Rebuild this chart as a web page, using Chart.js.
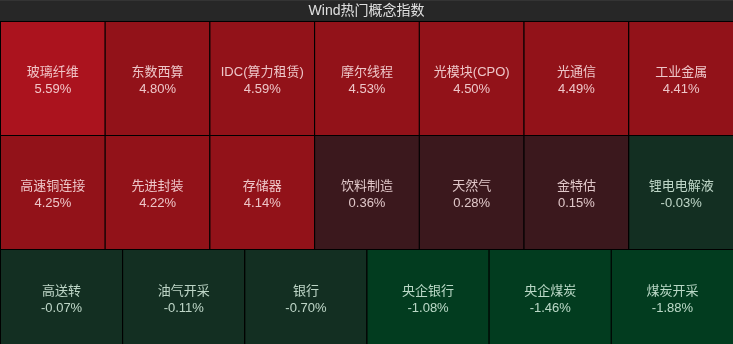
<!DOCTYPE html>
<html><head><meta charset="utf-8">
<script src="https://cdn.jsdelivr.net/npm/chart.js@4/dist/chart.umd.min.js"></script>
<style>
html,body{margin:0;padding:0;background:#000;}
#wrap{width:733px;height:344px;}
canvas{display:block;}
</style>
</head><body><div id="wrap"><canvas id="c" width="733" height="344"></canvas></div>
<script>
// ---- data ----
const chartTitle = 'Wind热门概念指数';
const row1Names = ['玻璃纤维','东数西算','IDC(算力租赁)','摩尔线程','光模块(CPO)','光通信','工业金属'];
const row1Values = [5.59, 4.80, 4.59, 4.53, 4.50, 4.49, 4.41];
const row2Names = ['高速铜连接','先进封装','存储器','饮料制造','天然气','金特估','锂电电解液'];
const row2Values = [4.25, 4.22, 4.14, 0.36, 0.28, 0.15, -0.03];
const row3Names = ['高送转','油气开采','银行','央企银行','央企煤炭','煤炭开采'];
const row3Values = [-0.07, -0.11, -0.70, -1.08, -1.46, -1.88];

// ---- layout / style ----
const rowWeights = [1.2, 1.2, 1];
const FONT = '"Liberation Sans", "Noto Sans CJK SC", sans-serif';

function cellColor(v) {
  if (v >= 5) return '#ab131e';
  if (v >= 1) return '#921219';
  if (v >= 0) return '#3b181d';
  if (v > -1) return '#132f22';
  return '#023c1f';
}
function textColor(v) {
  return v >= 0 ? 'rgba(255,232,234,0.84)' : 'rgba(232,255,240,0.8)';
}
function fmt(v) { return v.toFixed(2) + '%'; }

const rowDefs = [
  {names: row1Names, values: row1Values, axis: 'x7'},
  {names: row2Names, values: row2Values, axis: 'x7'},
  {names: row3Names, values: row3Values, axis: 'x6'}
];
const total = rowWeights.reduce((a, b) => a + b, 0);
let acc = 0;
const datasets = rowDefs.map((r, i) => {
  const start = acc; acc += rowWeights[i];
  const end = acc;
  return {
    names: r.names,
    values: r.values,
    xAxisID: r.axis,
    yAxisID: 'y',
    data: r.values.map(() => [start, end]),
    backgroundColor: r.values.map(cellColor),
    borderColor: '#000',
    borderWidth: {top: 1, left: 1, right: 0, bottom: 0},
    borderSkipped: false,
    inflateAmount: 0,
    grouped: false,
    categoryPercentage: 1,
    barPercentage: 1
  };
});
const cols7 = row1Names.map((_, i) => 'c' + i);
const cols6 = row3Names.map((_, i) => 'c' + i);

const headerPlugin = {
  id: 'header',
  beforeDraw(chart) {
    const ctx = chart.ctx;
    ctx.save();
    ctx.fillStyle = '#272727';
    ctx.fillRect(0, 0, chart.width, chart.chartArea.top);
    ctx.fillStyle = '#343434';
    ctx.fillRect(0, 0, chart.width, 1);
    ctx.restore();
  }
};
const labelPlugin = {
  id: 'cellLabels',
  afterDatasetsDraw(chart) {
    const ctx = chart.ctx;
    ctx.save();
    ctx.textAlign = 'center';
    ctx.textBaseline = 'middle';
    ctx.font = '13px ' + FONT;
    chart.data.datasets.forEach((ds, di) => {
      const meta = chart.getDatasetMeta(di);
      meta.data.forEach((bar, i) => {
        const p = bar.getProps(['x', 'y', 'base'], true);
        const cy = (p.y + p.base) / 2;
        const cx = p.x + 0.5;
        ctx.fillStyle = textColor(ds.values[i]);
        ctx.fillText(ds.names[i], cx, cy - 5.5);
        ctx.fillText(fmt(ds.values[i]), cx, cy + 11.5);
      });
    });
    ctx.restore();
  }
};

new Chart(document.getElementById('c'), {
  type: 'bar',
  data: {datasets},
  options: {
    responsive: false,
    animation: false,
    events: [],
    layout: {padding: 0},
    scales: {
      x7: {type: 'category', labels: cols7, display: false, offset: true},
      x6: {type: 'category', labels: cols6, display: false, offset: true},
      y: {type: 'linear', min: 0, max: total, reverse: true, display: false}
    },
    plugins: {
      legend: {display: false},
      tooltip: {enabled: false},
      title: {
        display: true,
        text: chartTitle,
        color: '#e0e0e0',
        font: {size: 14, family: FONT, weight: 'normal'},
        padding: {top: 3, bottom: 1.2}
      }
    }
  },
  plugins: [headerPlugin, labelPlugin]
});
</script>
</body></html>
